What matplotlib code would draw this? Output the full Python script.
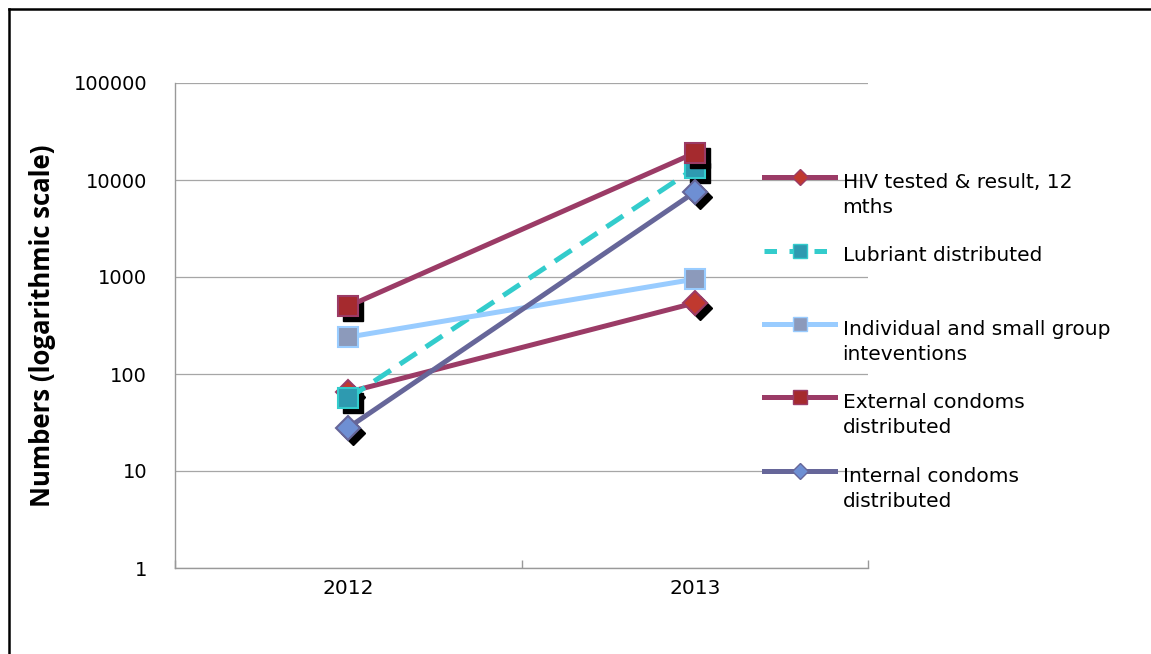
import numpy as np
import matplotlib
matplotlib.use("Agg")
import matplotlib.pyplot as plt
from matplotlib.lines import Line2D
from matplotlib.transforms import offset_copy
from matplotlib.legend_handler import HandlerLine2D
from matplotlib.ticker import FixedLocator, FixedFormatter, NullFormatter

# ---- data ----
years = ["2012", "2013"]
hiv_tested = [65, 540]
lubricant = [56, 13200]
individual = [240, 950]
external = [500, 19000]
internal = [28, 7500]
labels = ["HIV tested & result, 12\nmths", "Lubriant distributed\n",
          "Individual and small group\ninteventions", "External condoms\ndistributed",
          "Internal condoms\ndistributed"]
yticks = [1, 10, 100, 1000, 10000, 100000]

series = [
    dict(y=hiv_tested, lc="#9B3B66", mk="D", mfc="#C0392F", mec="#9B3B66", ms=12, ls="-", shadow=True, lms=8),
    dict(y=lubricant, lc="#33CCCC", mk="s", mfc="#2E9AB0", mec="#33CCCC", ms=15, ls="--", shadow=True, lms=10),
    dict(y=individual, lc="#99CCFF", mk="s", mfc="#8C9ABB", mec="#99CCFF", ms=15, ls="-", shadow=False, lms=10),
    dict(y=external, lc="#9B3B66", mk="s", mfc="#A52A2E", mec="#9B3B66", ms=15, ls="-", shadow=True, lms=10),
    dict(y=internal, lc="#666699", mk="D", mfc="#6E8FD3", mec="#666699", ms=12, ls="-", shadow=True, lms=8),
]

fig = plt.figure(figsize=(11.51, 6.54), dpi=100)
ax = fig.add_axes([175/1151, 1-568/654, 693/1151, 485/654])

x = np.arange(len(years)) + 0.5
lw = 3.6
handles = []
for s in series:
    if s["shadow"]:
        tr = offset_copy(ax.transData, fig=fig, x=3.6, y=-3.6, units="points")
        ax.plot(x, s["y"], linestyle="none", marker=s["mk"], ms=s["ms"], mfc="black",
                mec="black", transform=tr, zorder=3)
    line, = ax.plot(x, s["y"], color=s["lc"], lw=lw, linestyle=s["ls"],
                    dashes=(4, 2.2) if s["ls"] == "--" else (None, None),
                    marker=s["mk"], ms=s["ms"], mfc=s["mfc"], mec=s["mec"], mew=1.5, zorder=3)
    h = Line2D([], [], color=s["lc"], lw=lw, linestyle=s["ls"], marker=s["mk"], ms=s["lms"],
               mfc=s["mfc"], mec=s["mec"], mew=1)
    if s["ls"] == "--":
        h.set_dashes((2.5, 2.5))
    handles.append(h)

ax.set_yscale("log")
ax.set_ylim(1, 100000)
ax.set_xlim(0, 2)
ax.yaxis.set_major_locator(FixedLocator(yticks))
ax.yaxis.set_major_formatter(FixedFormatter([str(t) for t in yticks]))
ax.yaxis.set_minor_locator(FixedLocator([]))
ax.xaxis.set_major_locator(FixedLocator([0, 1, 2]))
ax.xaxis.set_major_formatter(NullFormatter())
ax.xaxis.set_minor_locator(FixedLocator(x))
ax.xaxis.set_minor_formatter(FixedFormatter(years))
ax.tick_params(axis="x", which="major", direction="in", length=6, color="#999999", width=1)
ax.tick_params(axis="x", which="minor", length=0, pad=8, labelsize=14.5)
ax.tick_params(axis="y", which="major", length=0, pad=20, labelsize=14)
ax.grid(axis="y", which="major", color="#A6A6A6", lw=0.9, zorder=0)
for sp in ["top", "right"]:
    ax.spines[sp].set_visible(False)
for sp in ["left", "bottom"]:
    ax.spines[sp].set_color("#999999")
    ax.spines[sp].set_linewidth(1)
ax.set_ylabel("Numbers (logarithmic scale)", fontsize=18.5, fontweight="bold",
              family=["Liberation Sans Narrow", "Open Sans"])
ax.yaxis.set_label_coords(-0.171, 0.5)
ax.set_axisbelow(True)


class UpHandler(HandlerLine2D):
    def __init__(self, dy, **kw):
        super().__init__(**kw)
        self.dy = dy

    def create_artists(self, legend, orig_handle, xdescent, ydescent, width, height, fontsize, trans):
        arts = super().create_artists(legend, orig_handle, xdescent, ydescent, width, height, fontsize, trans)
        for a in arts:
            a.set_ydata(np.asarray(a.get_ydata(), dtype=float) + self.dy)
        return arts


hmap = {h: UpHandler(13.2) for h in handles}
leg = fig.legend(handles, labels, loc="upper left", bbox_to_anchor=(764/1151, 1-173/654),
                 frameon=False, fontsize=14.5, handlelength=3.55, handletextpad=0.35,
                 labelspacing=1.46, borderpad=0, borderaxespad=0, handler_map=hmap)
for t in leg.get_texts():
    t.set_linespacing(1.4)

# figure border (top and left)
fig.add_artist(Line2D([9/1151, 1], [1-9/654, 1-9/654], transform=fig.transFigure, color="black", lw=1.8))
fig.add_artist(Line2D([9/1151, 9/1151], [0, 1-9/654], transform=fig.transFigure, color="black", lw=1.8))

fig.savefig("out.png", dpi=100)
